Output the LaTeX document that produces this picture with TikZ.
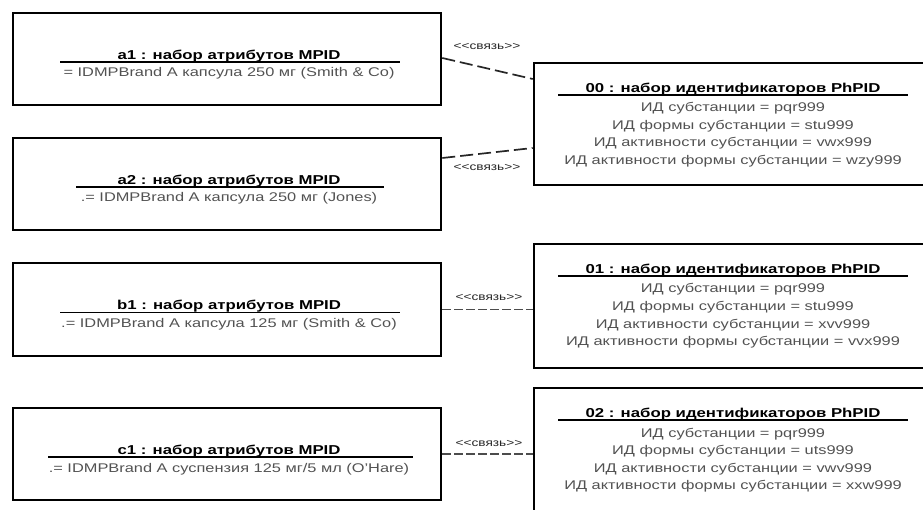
\documentclass[tikz,border=0pt]{standalone}
\usepackage{fontspec}
\setmainfont{Liberation Sans}[FakeStretch=1.3]
\newcommand{\svyaz}{<\kern0pt<связь>\kern0pt>}
\begin{document}
\begin{tikzpicture}[x=1pt,y=-1pt,
  box/.style={draw=black,line width=2.6pt,rectangle,inner sep=0pt},
  ttl/.style={anchor=base,inner sep=0pt,text=black,font=\fontsize{12.9}{15}\selectfont\bfseries},
  attr/.style={anchor=base,inner sep=0pt,text=black!68,font=\fontsize{12.6}{15}\selectfont},
  rel/.style={inner sep=0pt,text=black!85,font=\fontsize{10.5}{12}\selectfont},
  uline/.style={line width=1.8pt,draw=black},
  link/.style={line width=1.7pt,draw=black!85,dash pattern=on 13pt off 5pt},
  hlink/.style={line width=1.2pt,draw=black!70,dash pattern=on 9pt off 3pt}]
\useasboundingbox (0,0) rectangle (923,510);
\clip (0,0) rectangle (923,510);
% left boxes
\node[box,minimum width=428pt,minimum height=92pt] (a1) at (227,59) {};
\node[box,minimum width=428pt,minimum height=92pt] (a2) at (227,184) {};
\node[box,minimum width=428pt,minimum height=93pt] (b1) at (227,309.5) {};
\node[box,minimum width=428pt,minimum height=92pt] (c1) at (227,454) {};
% right boxes
\node[box,minimum width=406pt,minimum height=122pt] (p00) at (737,124) {};
\node[box,minimum width=406pt,minimum height=124pt] (p01) at (737,306) {};
\node[box,minimum width=406pt,minimum height=128pt] (p02) at (737,452) {};
% left texts
\node[ttl] (a1t) at (229,59.5) {a1 : набор атрибутов MPID};
\draw[uline] (60,62) -- (400,62);
\node[attr] (a1v) at (229,77) {= IDMPBrand A капсула 250 мг (Smith \& Co)};
\node[ttl] (a2t) at (229,184.5) {a2 : набор атрибутов MPID};
\draw[uline] (76,187) -- (384,187);
\node[attr] (a2v) at (229,202) {.= IDMPBrand A капсула 250 мг (Jones)};
\node[ttl] (b1t) at (229,310) {b1 : набор атрибутов MPID};
\draw[uline] (60,312.5) -- (400,312.5);
\node[attr] (b1v) at (229,327.5) {.= IDMPBrand A капсула 125 мг (Smith \& Co)};
\node[ttl] (c1t) at (229,454.5) {c1 : набор атрибутов MPID};
\draw[uline] (48,457) -- (413,457);
\node[attr] (c1v) at (229,472) {.= IDMPBrand A суспензия 125 мг/5 мл (O'Hare)};
% right texts 00
\node[ttl] (p00t) at (733,92.5) {00 : набор идентификаторов PhPID};
\draw[uline] (558,95) -- (908,95);
\node[attr] (p00a) at (733,112) {ИД субстанции = pqr999};
\node[attr] (p00b) at (733,129.5) {ИД формы субстанции = stu999};
\node[attr] (p00c) at (733,147) {ИД активности субстанции = vwx999};
\node[attr] (p00d) at (733,164.5) {ИД активности формы субстанции = wzy999};
% 01
\node[ttl] (p01t) at (733,273.5) {01 : набор идентификаторов PhPID};
\draw[uline] (558,276) -- (908,276);
\node[attr] (p01a) at (733,293) {ИД субстанции = pqr999};
\node[attr] (p01b) at (733,310.5) {ИД формы субстанции = stu999};
\node[attr] (p01c) at (733,328) {ИД активности субстанции = xvv999};
\node[attr] (p01d) at (733,345.5) {ИД активности формы субстанции = vvx999};
% 02
\node[ttl] (p02t) at (733,417.5) {02 : набор идентификаторов PhPID};
\draw[uline] (558,420) -- (908,420);
\node[attr] (p02a) at (733,437) {ИД субстанции = pqr999};
\node[attr] (p02b) at (733,454.5) {ИД формы субстанции = uts999};
\node[attr] (p02c) at (733,472) {ИД активности субстанции = vwv999};
\node[attr] (p02d) at (733,489.5) {ИД активности формы субстанции = xxw999};
% connectors
\draw[link] ([yshift=1pt]a1.east) -- ([yshift=45pt]p00.west);
\draw[link] ([yshift=26pt]a2.east) -- ([yshift=-24pt]p00.west);
\draw[hlink] (b1.east) -- (b1.east -| p01.west);
\draw[hlink] (c1.east) -- (c1.east -| p02.west);
% labels
\node[rel] (r1) at (487,46) {\svyaz};
\node[rel] (r2) at (487,167) {\svyaz};
\node[rel] (r3) at (489,297) {\svyaz};
\node[rel] (r4) at (489,443) {\svyaz};
\end{tikzpicture}
\end{document}
